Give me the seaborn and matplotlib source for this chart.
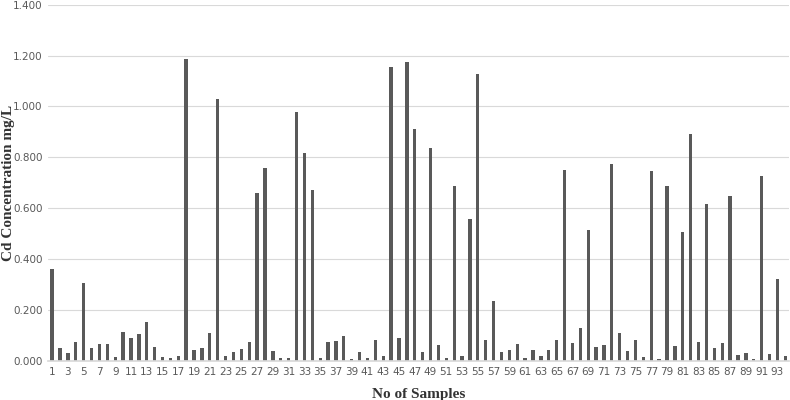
import numpy as np
import pandas as pd
import matplotlib
matplotlib.use("Agg")
import matplotlib.pyplot as plt
import seaborn as sns
from matplotlib.ticker import FormatStrFormatter

sns.set_theme(style="white")

# Cd concentration per sample (mg/L)
samples = list(range(1, 95))
cd_conc = [
    0.360, 0.050, 0.031, 0.073, 0.306, 0.050, 0.065, 0.065, 0.016, 0.115,
    0.089, 0.107, 0.155, 0.054, 0.016, 0.010, 0.018, 1.188, 0.045, 0.052,
    0.110, 1.030, 0.018, 0.034, 0.047, 0.076, 0.660, 0.757, 0.039, 0.010,
    0.010, 0.978, 0.819, 0.673, 0.010, 0.073, 0.079, 0.097, 0.008, 0.037,
    0.010, 0.081, 0.018, 1.155, 0.089, 1.176, 0.912, 0.034, 0.838, 0.063,
    0.013, 0.686, 0.018, 0.558, 1.126, 0.081, 0.236, 0.034, 0.042, 0.065,
    0.010, 0.042, 0.018, 0.042, 0.081, 0.750, 0.071, 0.131, 0.516, 0.055,
    0.063, 0.773, 0.110, 0.039, 0.081, 0.016, 0.748, 0.008, 0.686, 0.058,
    0.506, 0.893, 0.073, 0.618, 0.052, 0.071, 0.647, 0.024, 0.031, 0.008,
    0.726, 0.026, 0.322, 0.021,
]
tick_labels = [str(s) for s in samples[::2]]

df = pd.DataFrame({"sample": [str(s) for s in samples], "cd": cd_conc})

fig = plt.figure(figsize=(7.9, 4.0), dpi=100)
ax = fig.add_axes([0.061, 0.0975, 0.938, 0.891])

sns.barplot(data=df, x="sample", y="cd", color="#595959", saturation=1,
            width=0.42, linewidth=0, ax=ax)

ax.set_xlim(-0.5, len(samples) - 0.5)
ax.set_ylim(0, 1.4)
ax.set_yticks(np.arange(0, 1.41, 0.2))
ax.yaxis.set_major_formatter(FormatStrFormatter("%.3f"))
ax.set_xticks(range(0, len(samples), 2))
ax.set_xticklabels(tick_labels)

ax.grid(axis="y", color="#d9d9d9", linewidth=0.8)
ax.set_axisbelow(True)
for s in ["top", "right", "left"]:
    ax.spines[s].set_visible(False)
ax.spines["bottom"].set_color("#d9d9d9")
ax.tick_params(axis="both", length=0, labelsize=7.5, labelcolor="#595959", pad=4)

ax.set_xlabel("No of Samples", family="Liberation Serif", fontweight="bold",
              fontsize=11, color="#333333", labelpad=8)
ax.set_ylabel("Cd Concentration mg/L", family="Liberation Serif", fontweight="bold",
              fontsize=11, color="#333333")
ax.yaxis.set_label_coords(-0.045, 0.5)

fig.savefig("out.png", dpi=100)
